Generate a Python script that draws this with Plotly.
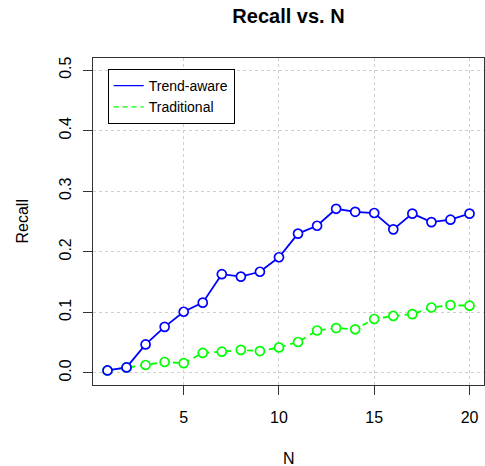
import plotly.graph_objects as go

N = list(range(1, 21))
trend_aware = [0.004, 0.009, 0.047, 0.076, 0.101, 0.116, 0.163, 0.159, 0.167, 0.191,
               0.230, 0.243, 0.271, 0.266, 0.264, 0.237, 0.263, 0.249, 0.253, 0.263]
traditional = [0.004, 0.009, 0.013, 0.018, 0.016, 0.033, 0.035, 0.038, 0.036, 0.042,
               0.051, 0.070, 0.074, 0.072, 0.089, 0.094, 0.097, 0.108, 0.112, 0.111]
series_names = ["Trend-aware", "Traditional"]
x_ticks = [5, 10, 15, 20]
y_ticks = [0.0, 0.1, 0.2, 0.3, 0.4, 0.5]

BLUE = "#0000FF"
GREEN = "#00FF00"
FONT = "Liberation Sans, Arial, Helvetica, sans-serif"

fig = go.Figure()

# data traces (green first so blue sits on top where they overlap)
fig.add_trace(go.Scatter(
    x=N, y=traditional, mode="lines+markers", showlegend=False,
    line=dict(color=GREEN, width=1.8, dash="6px,5px"),
    marker=dict(symbol="circle", size=9, color="white",
                line=dict(color=GREEN, width=1.7)),
))
fig.add_trace(go.Scatter(
    x=N, y=trend_aware, mode="lines+markers", showlegend=False,
    line=dict(color=BLUE, width=1.8),
    marker=dict(symbol="circle", size=9, color="white",
                line=dict(color=BLUE, width=1.7)),
))

# legend entries (lines only, like R's legend)
fig.add_trace(go.Scatter(x=[None], y=[None], mode="lines", name=series_names[0],
                         line=dict(color=BLUE, width=1.3)))
fig.add_trace(go.Scatter(x=[None], y=[None], mode="lines", name=series_names[1],
                         line=dict(color=GREEN, width=1.3, dash="5px,4px")))

axis_common = dict(
    showline=True, mirror=True, linecolor="#333333", linewidth=1.2,
    ticks="outside", ticklen=9, tickwidth=1.2, tickcolor="#333333",
    showgrid=True, gridcolor="#cfcfcf", griddash="3px,3px", gridwidth=1,
    zeroline=False, tickfont=dict(family=FONT, size=16, color="black"),
)

fig.update_xaxes(range=[0.24, 20.76], tickvals=x_ticks,
                 ticktext=[str(v) for v in x_ticks], ticklabelstandoff=9,
                 **axis_common)
fig.update_yaxes(range=[-0.02, 0.52], tickvals=y_ticks,
                 ticktext=[f"{v:.1f}" for v in y_ticks], tickangle=-90,
                 ticklabelstandoff=6, **axis_common)

fig.update_layout(
    width=485, height=466,
    margin=dict(l=93, r=1, t=58, b=81),
    plot_bgcolor="white", paper_bgcolor="white",
    font=dict(family=FONT, size=14, color="black"),
    title=dict(text="<b>Recall vs. N</b>", x=(93 + 484) / 2 / 485, xanchor="center",
               y=1 - 16 / 466, yanchor="middle", yref="container",
               font=dict(family=FONT, size=20, color="black")),
    legend=dict(x=0.0376, y=0.966, xanchor="left", yanchor="top",
                bordercolor="black", borderwidth=1, bgcolor="white",
                font=dict(family=FONT, size=14, color="black"),
                tracegroupgap=0, itemwidth=30),
    annotations=[
        dict(text="N", xref="paper", yref="paper", x=0.5, y=0, yshift=-73,
             xanchor="center", yanchor="middle", showarrow=False,
             font=dict(family=FONT, size=16, color="black")),
        dict(text="Recall", xref="paper", yref="paper", x=0, y=0.5, xshift=-71,
             xanchor="center", yanchor="middle", textangle=-90, showarrow=False,
             font=dict(family=FONT, size=16, color="black")),
    ],
)

fig.write_html("out.html")
